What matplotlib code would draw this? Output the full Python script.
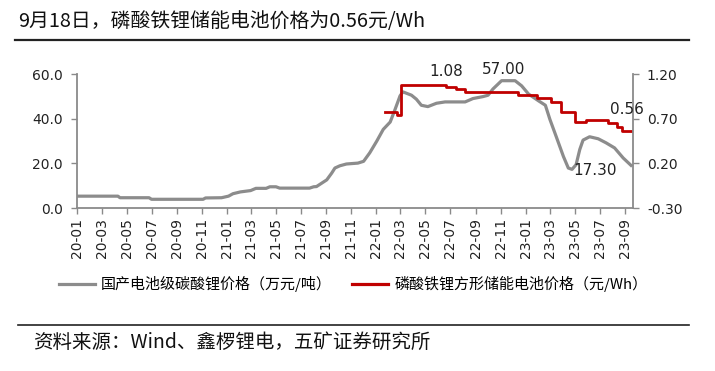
import numpy as np
import pandas as pd
import matplotlib
matplotlib.use('Agg')
import matplotlib.pyplot as plt
import matplotlib.dates as mdates
from matplotlib.lines import Line2D

plt.rcParams['font.family'] = ['Noto Sans CJK SC', 'DejaVu Sans']

# 国产电池级碳酸锂价格 (万元/吨)
li_dates = ['2020-01-01', '2020-04-10', '2020-04-15', '2020-06-25', '2020-07-01',
            '2020-11-04', '2020-11-10', '2020-12-19', '2021-01-05', '2021-01-16',
            '2021-02-03', '2021-02-28', '2021-03-13', '2021-04-07', '2021-04-16',
            '2021-05-01', '2021-05-10', '2021-07-22', '2021-08-01', '2021-08-08',
            '2021-09-02', '2021-09-14', '2021-09-22', '2021-10-04', '2021-10-20',
            '2021-11-17', '2021-12-01', '2021-12-16', '2022-01-02', '2022-01-18',
            '2022-02-04', '2022-02-16', '2022-02-28', '2022-03-07', '2022-03-28',
            '2022-04-09', '2022-04-21', '2022-05-07', '2022-05-28', '2022-06-18',
            '2022-08-06', '2022-08-25', '2022-09-19', '2022-10-01', '2022-10-13',
            '2022-11-03', '2022-12-06', '2022-12-22', '2023-01-08', '2023-02-02',
            '2023-02-18', '2023-03-01', '2023-03-16', '2023-04-03', '2023-04-15',
            '2023-04-24', '2023-05-04', '2023-05-13', '2023-05-21', '2023-06-06',
            '2023-06-27', '2023-07-16', '2023-08-06', '2023-08-27', '2023-09-18']
li_price = [5.3, 5.3, 4.6, 4.6, 3.9,
            3.9, 4.5, 4.6, 5.3, 6.4,
            7.2, 7.8, 8.8, 8.8, 9.5,
            9.5, 8.9, 8.9, 9.5, 9.6,
            12.6, 15.6, 17.9, 18.9, 19.7,
            20.1, 20.9, 24.7, 29.9, 35.2,
            38.5, 44.2, 50.2, 52.0, 50.5,
            48.7, 46.0, 45.4, 46.9, 47.5,
            47.5, 49.0, 49.9, 50.5, 53.3,
            57.0, 57.0, 54.7, 51.0, 47.9,
            46.0, 39.7, 32.2, 23.1, 17.9,
            17.3, 19.4, 26.2, 30.4, 31.9,
            31.0, 29.2, 26.9, 22.4, 18.6]

# 磷酸铁锂方形储能电池价格 (元/Wh)
lfp_dates = ['2022-01-22', '2022-02-21', '2022-03-03', '2022-06-21', '2022-07-15',
             '2022-08-05', '2022-12-14', '2023-01-28', '2023-03-04', '2023-03-28',
             '2023-05-01', '2023-05-28', '2023-07-21', '2023-08-11', '2023-08-25',
             '2023-09-18']
lfp_price = [0.77, 0.74, 1.08, 1.05, 1.03,
             1.00, 0.96, 0.93, 0.89, 0.77,
             0.66, 0.69, 0.65, 0.61, 0.56,
             0.56]

title = '9月18日，磷酸铁锂储能电池价格为0.56元/Wh'
source = '资料来源：Wind、鑫椤锂电，五矿证券研究所'
li_label = '国产电池级碳酸锂价格（万元/吨）'
lfp_label = '磷酸铁锂方形储能电池价格（元/Wh）'

gray = '#8c8c8c'
red = '#c00000'
axis_col = '#8a8a8a'
num_font = ['DejaVu Sans']

li_x = pd.to_datetime(li_dates)
lfp_x = pd.to_datetime(lfp_dates)

fig = plt.figure(figsize=(7.15, 3.71), dpi=100)
ax = fig.add_axes([77 / 715, 1 - 208 / 371, (633 - 77) / 715, (208 - 74) / 371])
ax2 = ax.twinx()

ax.plot(li_x, li_price, color=gray, lw=2.3, solid_capstyle='butt')
ax2.plot(lfp_x, lfp_price, color=red, lw=2.0, drawstyle='steps-post')

ax.set_xlim(pd.Timestamp('2020-01-01'), pd.Timestamp('2023-09-20'))
ax.set_ylim(0, 60)
ax2.set_ylim(-0.30, 1.20)
ax.set_yticks([0, 20, 40, 60])
ax2.set_yticks([-0.30, 0.20, 0.70, 1.20])
ax.yaxis.set_major_formatter(matplotlib.ticker.FormatStrFormatter('%.1f'))
ax2.yaxis.set_major_formatter(matplotlib.ticker.FormatStrFormatter('%.2f'))

ax.xaxis.set_major_locator(mdates.MonthLocator(bymonth=[1, 3, 5, 7, 9, 11]))
ax.xaxis.set_major_formatter(mdates.DateFormatter('%y-%m'))

for a in (ax, ax2):
    a.spines['top'].set_visible(False)
    for s in a.spines.values():
        s.set_color(axis_col)
        s.set_linewidth(1.3)
    a.tick_params(colors=axis_col, labelcolor='#222222', labelsize=10,
                  length=4, width=1.0, direction='out')
ax.spines['right'].set_visible(False)
ax2.spines['left'].set_visible(False)
ax2.spines['bottom'].set_visible(False)
ax.tick_params(axis='y', pad=6)
ax2.tick_params(axis='y', pad=6)
ax.tick_params(axis='x', pad=3)
for lab in ax.get_xticklabels():
    lab.set_rotation(90)
for lab in ax.get_xticklabels() + ax.get_yticklabels() + ax2.get_yticklabels():
    lab.set_family(num_font)

# data labels
lab_kw = dict(textcoords='offset points', ha='center', va='bottom',
              fontsize=11, color='#222222', family=num_font)
ax2.annotate('1.08', (pd.Timestamp('2022-06-21'), 1.08), xytext=(0, 4), **lab_kw)
ax.annotate('57.00', (pd.Timestamp('2022-11-08'), 57.0), xytext=(0, 3), **lab_kw)
ax2.annotate('0.56', (pd.Timestamp('2023-09-05'), 0.56), xytext=(0, 10), **lab_kw)
lab_kw['va'] = 'center'
ax.annotate('17.30', (pd.Timestamp('2023-06-20'), 17.3), xytext=(0, -1), **lab_kw)

# title and rules
fig.text(18 / 715, 1 - 21 / 371, title, fontsize=14.3, va='center', ha='left',
         color='#111111')
fig.add_artist(Line2D([15 / 715, 689 / 715], [1 - 39.5 / 371] * 2,
                      color='#222222', lw=1.6))
fig.add_artist(Line2D([18 / 715, 689 / 715], [1 - 324.5 / 371] * 2,
                      color='#222222', lw=1.2))
fig.text(33 / 715, 1 - 342 / 371, source, fontsize=14, va='center', ha='left',
         color='#111111')

# legend
handles = [Line2D([], [], color=gray, lw=2.3), Line2D([], [], color=red, lw=2.3)]
fig.legend(handles, [li_label, lfp_label], loc='center', ncol=2,
           bbox_to_anchor=(353 / 715, 1 - 284 / 371), frameon=False,
           fontsize=10.8, handlelength=2.4, handletextpad=0.4, columnspacing=1.4)

fig.savefig('out.png', dpi=100)
